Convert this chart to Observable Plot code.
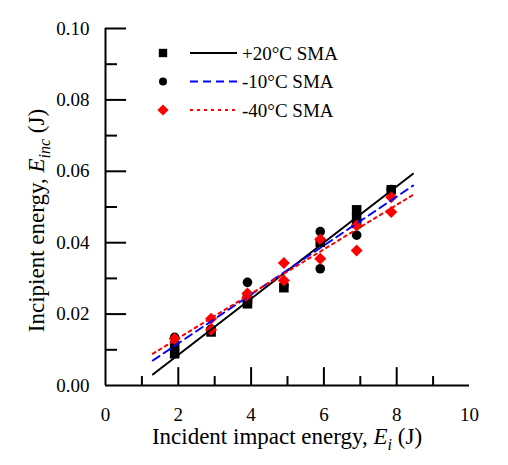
<!DOCTYPE html>
<html>
<head>
<meta charset="utf-8">
<script src="https://cdn.jsdelivr.net/npm/d3@7"></script>
<script src="https://cdn.jsdelivr.net/npm/@observablehq/plot@0.6"></script>
<style>
  html, body { margin: 0; padding: 0; background: #fff; }
  svg { display: block; }
</style>
</head>
<body>
<div id="chart"></div>
<script>
// ---- data ----
const seriesNames = ["+20°C SMA", "-10°C SMA", "-40°C SMA"];
const seriesColors = ["#000000", "#0000ff", "#ff0000"];

const sqX = [1.9, 1.9, 2.9, 3.9, 3.9, 4.9, 5.9, 6.9, 6.9, 6.9, 7.85];
const sqY = [0.0089, 0.0111, 0.0150, 0.0229, 0.0243, 0.0274, 0.0401, 0.0454, 0.0471, 0.0492, 0.0548];

const ciX = [1.9, 2.9, 3.9, 4.9, 5.9, 5.9, 6.9, 7.85];
const ciY = [0.0135, 0.0158, 0.0289, 0.0280, 0.0431, 0.0327, 0.0421, 0.0549];

const diX = [1.9, 2.9, 2.9, 3.9, 3.9, 4.9, 4.9, 5.9, 5.9, 6.9, 6.9, 7.85, 7.85];
const diY = [0.0131, 0.0187, 0.0156, 0.0258, 0.0247, 0.0343, 0.0294, 0.0409, 0.0355, 0.0448, 0.0378, 0.0527, 0.0486];

// fitted lines (end points)
const fitX = [1.3, 8.45];
const fit20Y = [0.0031, 0.0593];
const fitM10Y = [0.0070, 0.0560];
const fitM40Y = [0.0089, 0.0534];

const xTickLabels = [0, 2, 4, 6, 8, 10];
const xMinorTicks = [1, 3, 5, 7, 9];
const yTickLabels = [0, 0.02, 0.04, 0.06, 0.08, 0.10];
const yMinorTicks = [0.01, 0.03, 0.05, 0.07, 0.09];

const xTitle = ["Incident impact energy, ", "E", "i", " (J)"];
const yTitle = ["Incipient energy, ", "E", "inc", " (J)"];

// ---- build tables ----
const zip = (xs, ys) => xs.map((x, i) => ({x, y: ys[i]}));
const squares = zip(sqX, sqY);
const circles = zip(ciX, ciY);
const diamonds = zip(diX, diY);
const fit20 = zip(fitX, fit20Y);
const fitM10 = zip(fitX, fitM10Y);
const fitM40 = zip(fitX, fitM40Y);

const FONT = "Liberation Serif";
const majX = 0.005, minX = 0.0025;  // tick lengths in y units
const majY = 0.58, minY = 0.33;     // tick lengths in x units

const plot = Plot.plot({
  width: 508,
  height: 465,
  marginLeft: 105,
  marginRight: 39,
  marginTop: 28,
  marginBottom: 80,
  style: {background: "#fff", color: "#000"},
  x: {domain: [0, 10]},
  y: {domain: [0, 0.1]},
  marks: [
    Plot.ruleY([0], {x1: 0, x2: 10, stroke: "#000", strokeWidth: 2}),
    Plot.ruleX([0], {y1: 0, y2: 0.1, stroke: "#000", strokeWidth: 2}),
    Plot.ruleX(xTickLabels.slice(1, -1), {y1: 0, y2: majX, stroke: "#000", strokeWidth: 2}),
    Plot.ruleX(xMinorTicks, {y1: 0, y2: minX, stroke: "#000", strokeWidth: 2}),
    Plot.ruleY(yTickLabels.slice(1), {x1: 0, x2: majY, stroke: "#000", strokeWidth: 2}),
    Plot.ruleY(yMinorTicks, {x1: 0, x2: minY, stroke: "#000", strokeWidth: 2}),
    Plot.axisX({ticks: xTickLabels, tickSize: 0, tickPadding: 22, fontSize: 19, label: null, tickFormat: d => String(d)}),
    Plot.axisY({ticks: yTickLabels, tickSize: 0, tickPadding: 16, fontSize: 19, label: null, tickFormat: d => d.toFixed(2)}),
    Plot.dot(squares, {x: "x", y: "y", symbol: "square", r: 5.4, fill: "#000", stroke: null}),
    Plot.dot(circles, {x: "x", y: "y", symbol: "circle", r: 4.8, fill: "#000", stroke: null}),
    Plot.dot(diamonds, {x: "x", y: "y", symbol: "diamond2", r: 5.4, fill: "#ff0000", stroke: null}),
    Plot.line(fit20, {x: "x", y: "y", stroke: seriesColors[0], strokeWidth: 2}),
    Plot.line(fitM10, {x: "x", y: "y", stroke: seriesColors[1], strokeWidth: 2, strokeDasharray: "8,5"}),
    Plot.line(fitM40, {x: "x", y: "y", stroke: seriesColors[2], strokeWidth: 2, strokeDasharray: "3,4"})
  ]
});

document.getElementById("chart").appendChild(plot);
d3.select(plot).selectAll("text").style("font-family", FONT);

const svg = d3.select(plot);
const xs = plot.scale("x"), ys = plot.scale("y");
const xMid = (xs.range[0] + xs.range[1]) / 2;
const yMid = (ys.range[0] + ys.range[1]) / 2;

function title(g, parts) {
  const t = g.append("text").style("font-family", FONT).attr("font-size", 23).attr("fill", "#000")
    .attr("text-anchor", "middle");
  t.append("tspan").text(parts[0]);
  t.append("tspan").attr("font-style", "italic").text(parts[1]);
  t.append("tspan").attr("font-style", "italic").attr("font-size", 16).attr("dy", 6).text(parts[2]);
  t.append("tspan").attr("dy", -6).text(parts[3]);
  return t;
}
title(svg, xTitle).attr("x", xMid).attr("y", ys.range[0] + 59);
title(svg, yTitle).attr("transform", `translate(${xs.range[0] - 61},${yMid + 14}) rotate(-90)`);

const legend = svg.append("g").attr("transform", `translate(${xs.range[0] + 58},${ys.range[1] + 25})`);
const symbolTypes = [d3.symbolSquare, d3.symbolCircle, d3.symbolDiamond2];
const symbolSizes = [70, 50, 80];
const dashes = [null, "8,5", "3,4"];
seriesNames.forEach((name, i) => {
  const row = legend.append("g").attr("transform", `translate(0,${i * 28.5})`);
  row.append("path").attr("d", d3.symbol(symbolTypes[i], symbolSizes[i])())
    .attr("fill", i === 2 ? "#ff0000" : "#000");
  row.append("line").attr("x1", 27).attr("x2", 74).attr("y1", 0).attr("y2", 0)
    .attr("stroke", seriesColors[i]).attr("stroke-width", 2)
    .attr("stroke-dasharray", dashes[i]);
  row.append("text").attr("x", 79).attr("y", 6.5).style("font-family", FONT)
    .attr("text-anchor", "start")
    .attr("font-size", 19).attr("fill", "#000").text(name);
});
</script>
</body>
</html>
